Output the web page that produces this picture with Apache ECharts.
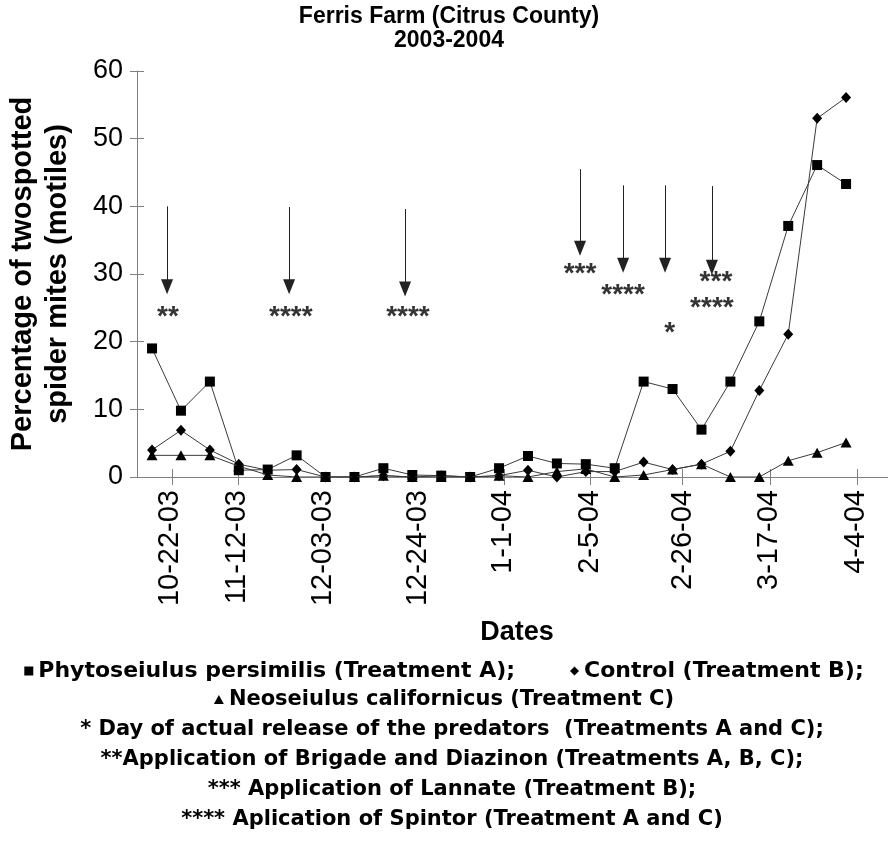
<!DOCTYPE html>
<html>
<head>
<meta charset="utf-8">
<script src="https://cdn.jsdelivr.net/npm/echarts@6/dist/echarts.min.js"></script>
<style>
  html, body { margin: 0; padding: 0; background: #fff; }
  #main { width: 888px; height: 847px; }
</style>
</head>
<body>
<div id="main"></div>
<script>
// sampling dates are plotted as evenly spaced points 0..24
var treatmentA = [19.0, 9.8, 14.1, 1.0, 1.1, 3.2, 0, 0, 1.3, 0.3, 0.2, 0, 1.3, 3.1, 2.0, 1.9, 1.3, 14.1, 13.0, 7.0, 14.1, 23.0, 37.1, 46.1, 43.3];
var controlB   = [4.0, 6.9, 4.0, 1.9, 1.0, 1.1, 0, 0, 0.2, 0, 0.2, 0, 0.2, 1.0, 0, 0.8, 0.8, 2.2, 1.1, 1.9, 3.8, 12.8, 21.1, 53.0, 56.1];
var treatmentC = [3.2, 3.2, 3.2, 1.6, 0.3, 0, 0, 0, 0.2, 0, 0, 0, 0.2, 0, 0.8, 1.2, 0, 0.3, 1.1, 1.9, 0, 0, 2.4, 3.6, 5.1];

// date tick labels (position on the sample index scale)
var dateLabels = ['10-22-03', '11-12-03', '12-03-03', '12-24-03', '1-1-04', '2-5-04', '2-26-04', '3-17-04', '4-4-04'];
var labelPos   = [0.62, 2.95, 5.9, 9.2, 12.15, 15.15, 18.35, 21.35, 24.35];
var tickPos    = [0.69, 2.97, 12.17, 15.15, 18.33, 21.37, 24.38];

// treatment arrows: x, top value, tip value
var arrowX   = [0.52, 4.74, 8.75, 14.8, 16.29, 17.74, 19.36];
var arrowTop = [40.0, 39.9, 39.6, 45.5, 43.1, 43.1, 43.0];
var arrowTip = [28.1, 28.1, 27.8, 33.8, 31.3, 31.3, 31.0];

// asterisk marks: x, value, text
var starX    = [0.55, 4.8, 8.85, 14.8, 16.29, 17.9, 19.5, 19.36];
var starY    = [23.6, 23.6, 23.6, 30.0, 26.9, 21.3, 28.8, 25.0];
var starText = ['**', '****', '****', '***', '****', '*', '***', '****'];

var nameA = 'Phytoseiulus persimilis (Treatment A);';
var nameB = 'Control (Treatment B);';
var nameC = 'Neoseiulus californicus (Treatment C)';

var notes = [
  '* Day of actual release of the predators  (Treatments A and C);',
  '**Application of Brigade and Diazinon (Treatments A, B, C);',
  '*** Application of Lannate (Treatment B);',
  '**** Aplication of Spintor (Treatment A and C)'
];

var FONT = '"Liberation Sans", Arial, sans-serif';
var WIDE = '"DejaVu Sans", Verdana, sans-serif';

function pairs(arr) {
  return arr.map(function (v, i) { return [i, v]; });
}

function nearestLabel(v) {
  var best = 0;
  for (var k = 1; k < labelPos.length; k++) {
    if (Math.abs(labelPos[k] - v) < Math.abs(labelPos[best] - v)) best = k;
  }
  return dateLabels[best];
}

var arrows = arrowX.map(function (x, k) {
  return [
    { coord: [x, arrowTop[k]], symbol: 'none' },
    { coord: [x, arrowTip[k]], symbol: 'triangle', symbolSize: [12, 15] }
  ];
});

var stars = starX.map(function (x, k) { return [x, starY[k], starText[k]]; });

var chart = echarts.init(document.getElementById('main'));

var lineStyle = { color: '#3a3a3a', width: 1 };
var noteStyle = { fontFamily: WIDE, fontSize: 21, fontWeight: 'bold', color: '#000' };

var option = {
  animation: false,
  backgroundColor: '#fff',
  textStyle: { fontFamily: FONT, color: '#000' },
  title: [{
    text: 'Ferris Farm (Citrus County)\n2003-2004',
    left: 444, textAlign: 'center', top: 0,
    textStyle: { fontFamily: FONT, fontSize: 23, fontWeight: 'bold', color: '#000', lineHeight: 24 }
  }, {
    text: 'Dates',
    left: 512, textAlign: 'center', top: 614,
    textStyle: { fontFamily: FONT, fontSize: 27, fontWeight: 'bold', color: '#000' }
  }, {
    text: notes.join('\n'),
    left: 447, textAlign: 'center', top: 710,
    textStyle: Object.assign({ lineHeight: 30 }, noteStyle)
  }],
  legend: [{
    data: [{ name: nameA, icon: 'rect' }, { name: nameB, icon: 'diamond' }],
    left: 'center', top: 655,
    itemWidth: 9, itemHeight: 9, itemGap: 55,
    textStyle: Object.assign({}, noteStyle, { fontSize: 22 })
  }, {
    data: [{ name: nameC, icon: 'triangle' }],
    left: 'center', top: 684,
    itemWidth: 10, itemHeight: 9,
    textStyle: noteStyle
  }],
  grid: { left: 137, right: 0, top: 71, bottom: 370, outerBoundsMode: 'none' },
  xAxis: [{
    type: 'value', min: -0.52, max: 25.45,
    axisLine: { lineStyle: { color: '#808080', width: 1 } },
    axisTick: { show: true, length: 8, customValues: tickPos, lineStyle: { color: '#808080' } },
    axisLabel: {
      customValues: labelPos, rotate: 90, margin: 13,
      fontFamily: FONT, fontSize: 29, color: '#000',
      formatter: function (v) { return nearestLabel(v); }
    },
    splitLine: { show: false }
  }, {
    type: 'value', min: -0.52, max: 25.45, position: 'bottom',
    axisLine: { show: false },
    axisTick: { show: true, inside: true, length: 8, customValues: tickPos, lineStyle: { color: '#808080' } },
    axisLabel: { show: false },
    splitLine: { show: false }
  }],
  yAxis: [{
    type: 'value', min: 0, max: 60, interval: 10,
    name: 'Percentage of twospotted\nspider mites (motiles)',
    nameLocation: 'middle', nameRotate: 90, nameGap: 62,
    nameTextStyle: { fontFamily: FONT, fontSize: 29, fontWeight: 'bold', color: '#000', lineHeight: 35 },
    axisLine: { show: true, onZero: false, lineStyle: { color: '#808080', width: 1 } },
    axisTick: { show: true, length: 7, lineStyle: { color: '#808080' } },
    axisLabel: { margin: 14, fontFamily: FONT, fontSize: 27, color: '#000' },
    splitLine: { show: false }
  }, {
    type: 'value', min: 0, max: 60, interval: 10, position: 'left',
    axisLine: { show: false, onZero: false },
    axisTick: { show: true, inside: true, length: 7, lineStyle: { color: '#808080' } },
    axisLabel: { show: false },
    splitLine: { show: false }
  }],
  series: [{
    name: nameA, type: 'line', data: pairs(treatmentA),
    symbol: 'rect', symbolSize: 10, color: '#000',
    itemStyle: { color: '#000' }, lineStyle: lineStyle, z: 3
  }, {
    name: nameB, type: 'line', data: pairs(controlB),
    symbol: 'diamond', symbolSize: [10, 11], color: '#000',
    itemStyle: { color: '#000' }, lineStyle: lineStyle, z: 4
  }, {
    name: nameC, type: 'line', data: pairs(treatmentC),
    symbol: 'triangle', symbolSize: [11, 10], color: '#000',
    itemStyle: { color: '#000' }, lineStyle: lineStyle, z: 5
  }, {
    name: 'notes', type: 'scatter', data: stars,
    symbolSize: 0, silent: true,
    label: {
      show: true, position: 'inside',
      formatter: function (p) { return p.data[2]; },
      fontFamily: FONT, fontSize: 28, fontWeight: 'bold', color: '#000'
    },
    markLine: {
      silent: true, symbol: ['none', 'triangle'], symbolSize: [12, 15],
      label: { show: false },
      lineStyle: { color: '#222', width: 1, type: 'solid' },
      data: arrows
    }
  }]
};

chart.setOption(option);
</script>
</body>
</html>
